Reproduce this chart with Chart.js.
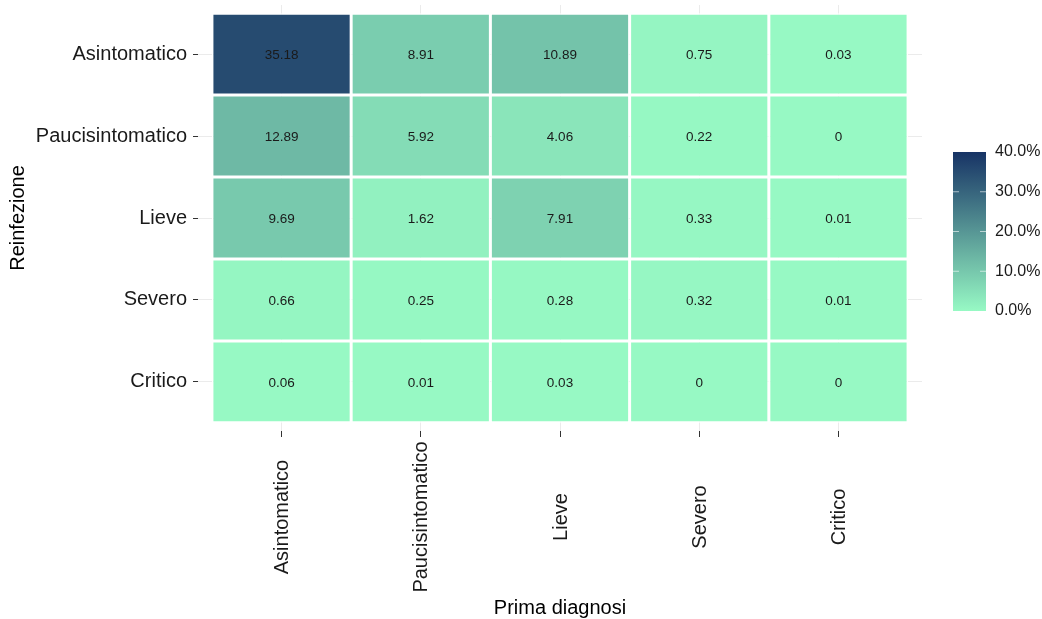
<!DOCTYPE html>
<html>
<head>
<meta charset="utf-8">
<script src="https://cdn.jsdelivr.net/npm/chart.js@4/dist/chart.umd.min.js"></script>
<style>
  html, body { margin: 0; padding: 0; background: #fff; }
  #wrap { width: 1042px; height: 619px; position: relative; }
</style>
</head>
<body>
<div id="wrap"><canvas id="heatmap"></canvas></div>
<script>
// Categorie
const primaDiagnosi = ['Asintomatico', 'Paucisintomatico', 'Lieve', 'Severo', 'Critico'];
const reinfezione = ['Asintomatico', 'Paucisintomatico', 'Lieve', 'Severo', 'Critico'];

// Valori (%) per riga di reinfezione, colonne = prima diagnosi
const rowAsintomatico = [35.18, 8.91, 10.89, 0.75, 0.03];
const rowPaucisintomatico = [12.89, 5.92, 4.06, 0.22, 0];
const rowLieve = [9.69, 1.62, 7.91, 0.33, 0.01];
const rowSevero = [0.66, 0.25, 0.28, 0.32, 0.01];
const rowCritico = [0.06, 0.01, 0.03, 0, 0];
const rows = [rowAsintomatico, rowPaucisintomatico, rowLieve, rowSevero, rowCritico];

// Scala colori
const legendTicks = [0, 10, 20, 30, 40];
const scaleMax = 40;
const lowColor = [151, 249, 196];
const highColor = [23, 51, 101];

function fillColor(v) {
    const t = Math.max(0, Math.min(1, v / scaleMax));
    const c = lowColor.map((lo, i) => Math.round(lo + (highColor[i] - lo) * t));
    return `rgb(${c[0]}, ${c[1]}, ${c[2]})`;
}

const FONT = '"Liberation Sans", Arial, sans-serif';
Chart.defaults.font.family = FONT;

// Etichette nelle celle + etichette asse x + titoli + barra colori
const heatmapExtras = {
    id: 'heatmapExtras',
    afterDatasetsDraw(chart) {
        const ctx = chart.ctx;
        ctx.save();
        ctx.font = `13.5px ${FONT}`;
        ctx.fillStyle = '#1a1a1a';
        ctx.textAlign = 'center';
        ctx.textBaseline = 'middle';
        chart.data.datasets.forEach((ds, i) => {
            const meta = chart.getDatasetMeta(i);
            meta.data.forEach((bar, j) => {
                const p = bar.getCenterPoint();
                ctx.fillText(String(ds.values[j]), p.x, p.y + 1);
            });
        });
        ctx.restore();
    },
    afterDraw(chart) {
        const ctx = chart.ctx;
        const area = chart.chartArea;
        const xScale = chart.scales.x;
        ctx.save();

        // etichette asse x, ruotate e centrate
        ctx.font = `20px ${FONT}`;
        ctx.fillStyle = '#1a1a1a';
        ctx.textAlign = 'center';
        ctx.textBaseline = 'middle';
        primaDiagnosi.forEach((lab, i) => {
            const x = xScale.getPixelForValue(i + 1);
            ctx.save();
            ctx.translate(x + 1, area.bottom + 86);
            ctx.rotate(-Math.PI / 2);
            ctx.fillText(lab, 0, 0);
            ctx.restore();
        });

        // titoli assi
        ctx.fillStyle = '#000';
        ctx.fillText('Prima diagnosi', (area.left + area.right) / 2, 608);
        ctx.save();
        ctx.translate(18, (area.top + area.bottom) / 2);
        ctx.rotate(-Math.PI / 2);
        ctx.fillText('Reinfezione', 0, 0);
        ctx.restore();

        // barra colori
        const bx = area.right + 31, bw = 33;
        const top = 152, bottom = 311;
        const grad = ctx.createLinearGradient(0, bottom, 0, top);
        for (let k = 0; k <= 10; k++) {
            grad.addColorStop(k / 10, fillColor(scaleMax * k / 10));
        }
        ctx.fillStyle = grad;
        ctx.fillRect(bx, top, bw, bottom - top);

        ctx.font = `16px ${FONT}`;
        ctx.textAlign = 'left';
        ctx.fillStyle = '#1a1a1a';
        legendTicks.forEach(v => {
            const y = bottom - (v / scaleMax) * (bottom - top);
            if (v > 0 && v < scaleMax) {
                ctx.strokeStyle = 'rgba(255,255,255,0.6)';
                ctx.lineWidth = 1;
                ctx.beginPath();
                ctx.moveTo(bx, y); ctx.lineTo(bx + 6, y);
                ctx.moveTo(bx + bw - 6, y); ctx.lineTo(bx + bw, y);
                ctx.stroke();
            }
            ctx.fillText(v.toFixed(1) + '%', bx + bw + 9, y);
        });
        ctx.restore();
    }
};

const datasets = rows.map((vals, i) => ({
    label: reinfezione[i],
    values: vals,
    data: vals.map((v, j) => ({ x: j + 1, y: 1 })),
    backgroundColor: vals.map(fillColor),
    borderColor: '#ffffff',
    borderWidth: 1.5,
    borderSkipped: false,
    inflateAmount: 0,
    categoryPercentage: 1,
    barPercentage: 1
}));

new Chart(document.getElementById('heatmap'), {
    type: 'bar',
    data: { datasets: datasets },
    options: {
        responsive: true,
        maintainAspectRatio: false,
        animation: false,
        layout: { padding: { top: 5, right: 120, left: 0, bottom: 0 } },
        plugins: {
            legend: { display: false },
            tooltip: { enabled: false }
        },
        scales: {
            x: {
                type: 'linear',
                stacked: true,
                offset: false,
                min: 0.4,
                max: 5.6,
                afterBuildTicks: scale => {
                    scale.ticks = primaDiagnosi.map((_, i) => ({ value: i + 1 }));
                },
                afterFit: scale => {
                    scale.height = 188;
                    scale.paddingLeft = 0;
                    scale.paddingRight = 0;
                },
                ticks: { display: false },
                grid: { offset: false, color: '#ebebeb', tickColor: '#333333', tickLength: 6, lineWidth: 1 },
                border: { display: false }
            },
            y: {
                type: 'linear',
                stacked: true,
                reverse: true,
                min: -0.1,
                max: 5.1,
                afterBuildTicks: scale => {
                    scale.ticks = reinfezione.map((_, i) => ({ value: i + 0.5 }));
                },
                afterFit: scale => {
                    scale.width = 198;
                    scale.paddingTop = 0;
                    scale.paddingBottom = 0;
                },
                ticks: {
                    padding: 6,
                    color: '#1a1a1a',
                    font: { size: 20 },
                    callback: value => reinfezione[Math.round(value - 0.5)]
                },
                grid: { color: '#ebebeb', tickColor: '#333333', tickLength: 5, lineWidth: 1 },
                border: { display: false }
            }
        }
    },
    plugins: [heatmapExtras]
});
</script>
</body>
</html>
